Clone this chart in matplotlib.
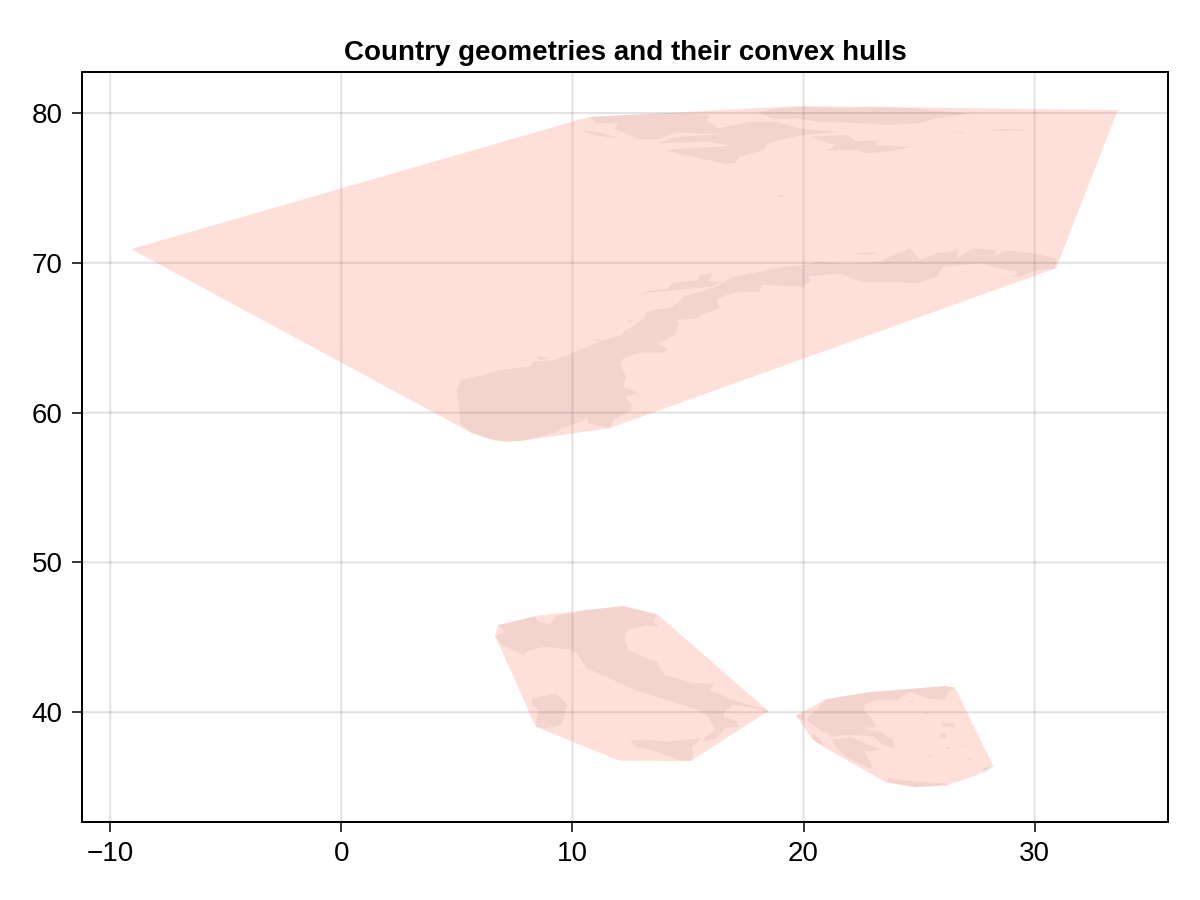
import matplotlib
matplotlib.use('Agg')
import matplotlib.pyplot as plt

# convex hulls (lon, lat)
hull_norway = [(-9.10, 70.92), (10.68, 79.73), (19.85, 80.47), (33.60, 80.20), (30.93, 69.65),
               (11.62, 58.97), (7.73, 58.10), (7.08, 58.07), (6.43, 58.24), (5.57, 58.70)]
hull_italy = [(12.18, 47.09), (13.67, 46.54), (18.48, 40.08), (15.12, 36.74), (12.03, 36.76),
              (8.41, 39.03), (6.65, 45.11), (6.79, 45.82), (8.38, 46.42)]
hull_greece = [(19.68, 39.77), (20.96, 40.86), (22.80, 41.33), (26.12, 41.75), (26.55, 41.64),
               (28.21, 36.41), (27.50, 35.81), (26.27, 35.14), (24.82, 34.99), (23.60, 35.29),
               (20.71, 37.81), (20.35, 38.26)]

# country outlines
norway_main = [(7.01, 58.06), (7.88, 58.13), (9.17, 58.62), (9.68, 59.06), (10.40, 59.40), (10.62, 59.73),
               (10.69, 59.28), (11.63, 58.95), (11.77, 59.51), (12.56, 60.17), (12.56, 60.62), (12.28, 61.06),
               (12.88, 61.29), (12.20, 61.73), (12.32, 62.40), (12.06, 63.18), (12.20, 63.62), (12.92, 64.02),
               (13.93, 64.02), (14.15, 64.29), (13.65, 64.58), (14.44, 65.18), (14.63, 65.96), (14.51, 66.18),
               (15.45, 66.29), (15.52, 66.52), (16.39, 66.96), (16.24, 67.52), (16.67, 67.85), (17.25, 68.07),
               (18.12, 68.07), (18.19, 68.52), (19.99, 68.41), (20.35, 68.85), (20.13, 69.07), (21.58, 69.30),
               (22.44, 68.74), (23.88, 68.74), (24.89, 68.63), (25.76, 69.07), (26.05, 69.74), (27.63, 69.96),
               (28.79, 69.52), (29.36, 69.41), (28.93, 69.07), (29.36, 69.07), (30.09, 69.52), (30.88, 69.56),
               (30.95, 70.30), (29.94, 70.63), (28.79, 70.85), (28.21, 70.41), (28.36, 70.85), (27.35, 70.97),
               (26.62, 70.30), (26.70, 70.85), (25.76, 70.63), (25.04, 70.19), (24.61, 70.97), (23.74, 70.41),
               (23.31, 70.08), (21.86, 69.96), (20.71, 70.08), (19.99, 69.85), (19.13, 69.74), (18.12, 69.41),
               (16.96, 69.07), (16.24, 68.41), (14.80, 67.74), (14.37, 67.07), (13.21, 66.74), (13.07, 66.29),
               (12.78, 65.96), (12.20, 65.40), (12.13, 65.18), (11.19, 64.74), (9.61, 63.73), (9.17, 63.51),
               (8.31, 63.40), (8.16, 63.07), (6.87, 62.84), (6.15, 62.51), (5.14, 62.18), (4.99, 61.29),
               (5.06, 60.62), (5.14, 59.73), (5.14, 59.28), (5.64, 58.62), (6.58, 58.13)]
lofoten = [(12.92, 67.85), (13.28, 68.14), (14.08, 68.25), (14.37, 68.67), (15.38, 68.85), (15.52, 69.19),
           (16.10, 69.30), (15.88, 68.74), (16.53, 68.74), (16.03, 68.41), (14.37, 68.18), (13.28, 68.00)]
hitra = [(10.76, 64.90), (11.27, 64.94), (11.19, 64.80)]
vega = [(12.35, 66.14), (12.64, 66.18), (12.49, 66.00)]
traena = [(11.77, 65.63), (11.99, 65.69), (11.92, 65.58)]
smola = [(8.38, 63.73), (9.10, 63.69), (8.60, 63.51)]
soroya = [(22.08, 70.63), (23.31, 70.74), (22.87, 70.52)]
spitsbergen = [(10.76, 79.76), (12.35, 79.87), (14.08, 79.98), (15.95, 79.87), (15.81, 79.53), (16.31, 78.98),
               (17.68, 79.42), (18.84, 79.42), (19.78, 78.98), (21.43, 78.75), (19.99, 78.53), (18.98, 78.20),
               (18.48, 77.97), (18.26, 77.53), (17.25, 77.08), (17.03, 76.68), (16.67, 76.60), (15.52, 76.97),
               (14.01, 77.49), (14.80, 77.64), (16.96, 77.82), (15.81, 78.09), (13.72, 77.98), (14.37, 78.38),
               (16.67, 78.64), (15.38, 78.64), (14.51, 78.69), (13.65, 78.24), (12.92, 78.24), (11.77, 78.98),
               (12.06, 79.31), (11.05, 79.31)]
forland = [(10.54, 78.82), (11.05, 78.75), (12.06, 78.31), (11.34, 78.42), (10.69, 78.64)]
nordaust = [(17.97, 80.09), (18.98, 80.31), (19.99, 80.42), (21.58, 80.31), (22.44, 80.38), (23.31, 80.42),
            (24.75, 80.31), (27.20, 79.98), (25.76, 79.64), (25.04, 79.35), (23.74, 79.20), (22.73, 79.31),
            (20.71, 79.42), (19.70, 79.64), (18.69, 79.60)]
edge = [(20.35, 78.42), (21.86, 78.53), (22.37, 78.09), (23.31, 78.20), (23.02, 77.86), (24.75, 77.75),
        (23.60, 77.42), (22.59, 77.31), (22.44, 77.53), (20.93, 77.49), (21.43, 77.86), (20.86, 78.09)]
kong_karl = [(26.41, 78.78), (27.00, 78.70), (26.91, 78.64)]
kvitoya = [(27.92, 78.82), (28.79, 78.95), (29.73, 78.86), (28.79, 78.82)]
bjornoya = [(18.84, 74.46), (18.98, 74.53), (19.27, 74.46), (19.06, 74.35)]
jan_mayen = [(-9.10, 70.87), (-8.60, 71.00), (-8.00, 71.17), (-8.40, 71.00)]

italy_main = [(6.79, 45.82), (8.38, 46.37), (8.52, 46.04), (9.03, 45.86), (9.32, 46.48), (10.04, 46.60),
              (10.47, 46.82), (12.17, 47.09), (13.67, 46.53), (13.50, 46.04), (13.79, 45.71), (13.21, 45.82),
              (12.35, 45.48), (12.27, 44.93), (12.42, 44.15), (13.21, 43.59), (13.64, 43.37), (14.00, 42.48),
              (15.23, 41.92), (16.17, 41.92), (15.95, 41.48), (16.96, 40.81), (18.48, 40.14), (18.40, 39.92),
              (18.04, 40.25), (16.96, 40.48), (16.60, 40.03), (16.53, 39.70), (17.11, 39.41), (17.18, 39.03),
              (16.60, 38.92), (16.24, 38.25), (15.66, 38.03), (15.74, 38.36), (16.17, 38.81), (15.81, 39.81),
              (15.52, 40.03), (14.80, 40.48), (14.08, 40.81), (12.92, 41.37), (12.06, 41.92), (11.48, 42.37),
              (10.62, 42.92), (10.18, 43.93), (9.97, 44.15), (8.81, 44.37), (8.16, 44.15), (7.88, 43.81),
              (7.44, 44.15), (6.94, 44.48), (6.65, 45.11), (7.08, 45.37)]
sicily = [(12.49, 38.03), (12.71, 38.14), (13.36, 38.14), (14.08, 38.03), (15.59, 38.25), (15.16, 37.69),
          (15.23, 37.14), (15.12, 36.74), (14.65, 36.81), (13.64, 37.36), (12.78, 37.69)]
sardinia = [(8.24, 40.92), (9.25, 41.26), (9.78, 40.59), (9.72, 40.03), (9.53, 39.14), (8.81, 38.92),
            (8.41, 39.03), (8.45, 39.59), (8.52, 40.14), (8.24, 40.59)]
elba = [(10.11, 42.81), (10.44, 42.75), (10.30, 42.72)]

greece_main = [(20.13, 39.59), (20.64, 40.26), (20.96, 40.86), (22.01, 41.15), (22.80, 41.33), (24.53, 41.55),
               (26.12, 41.75), (26.55, 41.64), (26.27, 41.37), (26.12, 40.82), (25.33, 40.93), (24.61, 41.37),
               (24.03, 40.82), (23.16, 40.82), (22.59, 40.48), (22.66, 40.04), (22.87, 39.70), (23.16, 39.04),
               (22.59, 38.93), (23.31, 38.70), (23.88, 38.15), (23.96, 37.59), (23.45, 37.81), (23.02, 38.37),
               (22.08, 38.48), (21.22, 38.41), (20.71, 38.81), (20.21, 39.37)]
peloponnese = [(21.22, 38.15), (22.08, 38.33), (23.31, 37.48), (22.66, 37.37), (22.95, 36.48), (22.95, 36.21),
               (21.94, 36.92), (21.43, 37.59)]
kefalonia = [(20.42, 38.59), (20.68, 38.26), (20.83, 37.81), (20.49, 38.04), (20.35, 38.26)]
corfu = [(19.67, 39.77), (19.99, 39.93), (20.06, 39.48), (19.85, 39.53)]
crete = [(23.60, 35.37), (23.67, 35.59), (24.75, 35.37), (26.19, 35.25), (26.27, 35.10), (24.82, 34.99)]
rhodes = [(27.78, 36.26), (28.21, 36.41), (28.07, 36.15), (27.71, 35.81)]
thasos = [(24.53, 40.77), (24.75, 40.77), (24.72, 40.60)]
lesbos = [(25.90, 39.26), (26.55, 39.30), (26.55, 39.04), (26.05, 39.04)]
chios = [(25.90, 38.59), (26.15, 38.59), (26.15, 38.26), (25.90, 38.26)]
lemnos = [(25.18, 39.97), (25.40, 39.93), (25.33, 39.82)]
naxos = [(25.40, 37.15), (25.59, 37.10), (25.47, 36.99)]
samos = [(26.05, 37.59), (26.37, 37.66), (26.27, 37.52)]
ikaria = [(26.62, 37.75), (27.06, 37.75), (26.84, 37.68)]
kos = [(26.98, 36.86), (27.34, 36.92), (27.20, 36.81)]

hulls = [hull_norway, hull_italy, hull_greece]
countries = [norway_main, lofoten, hitra, vega, traena, smola, soroya, spitsbergen, forland, nordaust, edge,
             kong_karl, kvitoya, bjornoya, jan_mayen,
             italy_main, sicily, sardinia, elba,
             greece_main, peloponnese, kefalonia, corfu, crete, rhodes, thasos, lesbos, chios, lemnos, naxos,
             samos, ikaria, kos]

x_ticks = [-10, 0, 10, 20, 30]
y_ticks = [40, 50, 60, 70, 80]

plt.rcParams['font.family'] = ['Liberation Sans', 'DejaVu Sans']

fig = plt.figure(figsize=(12, 9), dpi=100)
ax = fig.add_axes([82/1200, 1 - 822/900, (1168 - 82)/1200, (822 - 72)/900])

for poly in hulls:
    ax.fill(*zip(*poly), color='tomato', alpha=0.2, linewidth=0, zorder=2)
for poly in countries:
    ax.fill(*zip(*poly), color='black', alpha=0.05, linewidth=0, zorder=3)

ax.set_xlim(-11.22, 35.77)
ax.set_ylim(32.67, 82.74)
ax.set_xticks(x_ticks)
ax.set_yticks(y_ticks)
ax.set_xticklabels(['\u221210', '0', '10', '20', '30'])
ax.grid(True, color='black', alpha=0.11, linewidth=1.5, zorder=1)
for line in ax.get_xgridlines() + ax.get_ygridlines():
    line.set_snap(False)
ax.set_axisbelow(True)
ax.tick_params(labelsize=20, length=7.5, width=1.1)
ax.tick_params(axis='x', pad=6.5)
ax.tick_params(axis='y', pad=6.5)
for spine in ax.spines.values():
    spine.set_linewidth(1.44)
ax.set_title('Country geometries and their convex hulls', fontsize=20, fontweight='bold', pad=9)

plt.savefig('out.png', dpi=100)
